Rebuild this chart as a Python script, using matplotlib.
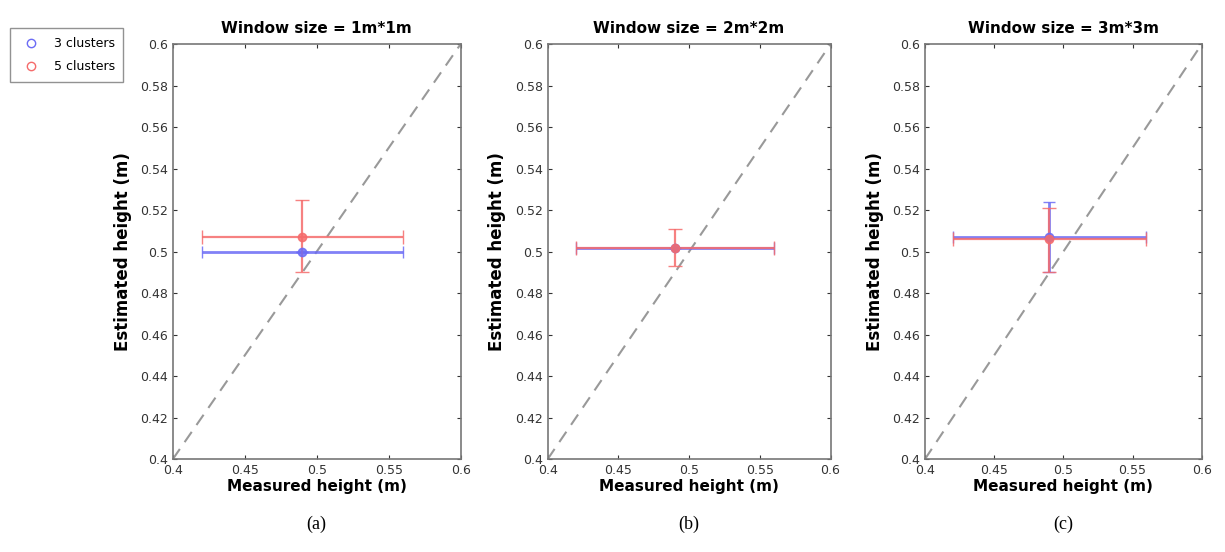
import numpy as np
import matplotlib.pyplot as plt
from matplotlib.lines import Line2D

titles = ["Window size = 1m*1m", "Window size = 2m*2m", "Window size = 3m*3m"]
captions = ["(a)", "(b)", "(c)"]

# measured height (x), estimated height (y), error extents per panel
blue_x = [0.49, 0.49, 0.49]
blue_y = [0.500, 0.502, 0.507]
blue_xerr = [0.07, 0.07, 0.07]
blue_yerr_lo = [0.0, 0.0, 0.017]
blue_yerr_hi = [0.0, 0.0, 0.017]

red_x = [0.49, 0.49, 0.49]
red_y = [0.507, 0.502, 0.506]
red_xerr = [0.07, 0.07, 0.07]
red_yerr_lo = [0.017, 0.009, 0.016]
red_yerr_hi = [0.018, 0.009, 0.015]

yticks = [0.4, 0.42, 0.44, 0.46, 0.48, 0.5, 0.52, 0.54, 0.56, 0.58, 0.6]
ytick_labels = ["0.4", "0.42", "0.44", "0.46", "0.48", "0.5", "0.52", "0.54", "0.56", "0.58", "0.6"]
xticks = [0.4, 0.45, 0.5, 0.55, 0.6]
xtick_labels = ["0.4", "0.45", "0.5", "0.55", "0.6"]

blue = "#6b6bf5"
red = "#f56b6b"

fig = plt.figure(figsize=(12.25, 5.52), dpi=100)
positions = [[0.141, 0.168, 0.235, 0.752],
             [0.447, 0.168, 0.231, 0.752],
             [0.755, 0.168, 0.226, 0.752]]

for i in range(3):
    ax = fig.add_axes(positions[i])
    ax.plot([0.4, 0.6], [0.4, 0.6], "--", color="#999999", lw=1.5, dashes=(6, 4))
    ax.errorbar(blue_x[i], blue_y[i], xerr=blue_xerr[i],
                yerr=[[blue_yerr_lo[i]], [blue_yerr_hi[i]]],
                fmt="o", color=blue, mfc=blue, ms=6, lw=2, capsize=4, alpha=0.85)
    ax.errorbar(red_x[i], red_y[i], xerr=red_xerr[i],
                yerr=[[red_yerr_lo[i]], [red_yerr_hi[i]]],
                fmt="o", color=red, mfc=red, ms=6, lw=1.6, capsize=5, alpha=0.85)
    ax.set_xlim(0.4, 0.6)
    ax.set_ylim(0.4, 0.6)
    ax.set_xticks(xticks)
    ax.set_xticklabels(xtick_labels)
    ax.set_yticks(yticks)
    ax.set_yticklabels(ytick_labels)
    ax.tick_params(direction="in", top=True, right=True, length=3, labelsize=9, colors="#333333")
    for s in ax.spines.values():
        s.set_color("#777777")
        s.set_linewidth(1.2)
    ax.set_title(titles[i], fontsize=11, fontweight="bold", pad=8)
    ax.set_xlabel("Measured height (m)", fontsize=11, fontweight="bold", labelpad=1)
    ax.set_ylabel("Estimated height (m)", fontsize=12, fontweight="bold", labelpad=6)
    ax.text(0.5, -0.135, captions[i], transform=ax.transAxes, ha="center", va="top",
            fontsize=13, family="Liberation Serif")

handles = [Line2D([], [], ls="", marker="o", mfc="none", mec=blue, ms=6, label="3 clusters"),
           Line2D([], [], ls="", marker="o", mfc="none", mec=red, ms=6, label="5 clusters")]
fig.legend(handles=handles, loc="upper left", bbox_to_anchor=(0.006, 0.953),
           fontsize=9, frameon=True, fancybox=False, edgecolor="#777777",
           handletextpad=0.8, borderpad=0.7, labelspacing=0.8, borderaxespad=0.2)

fig.savefig("out.png", dpi=100)
